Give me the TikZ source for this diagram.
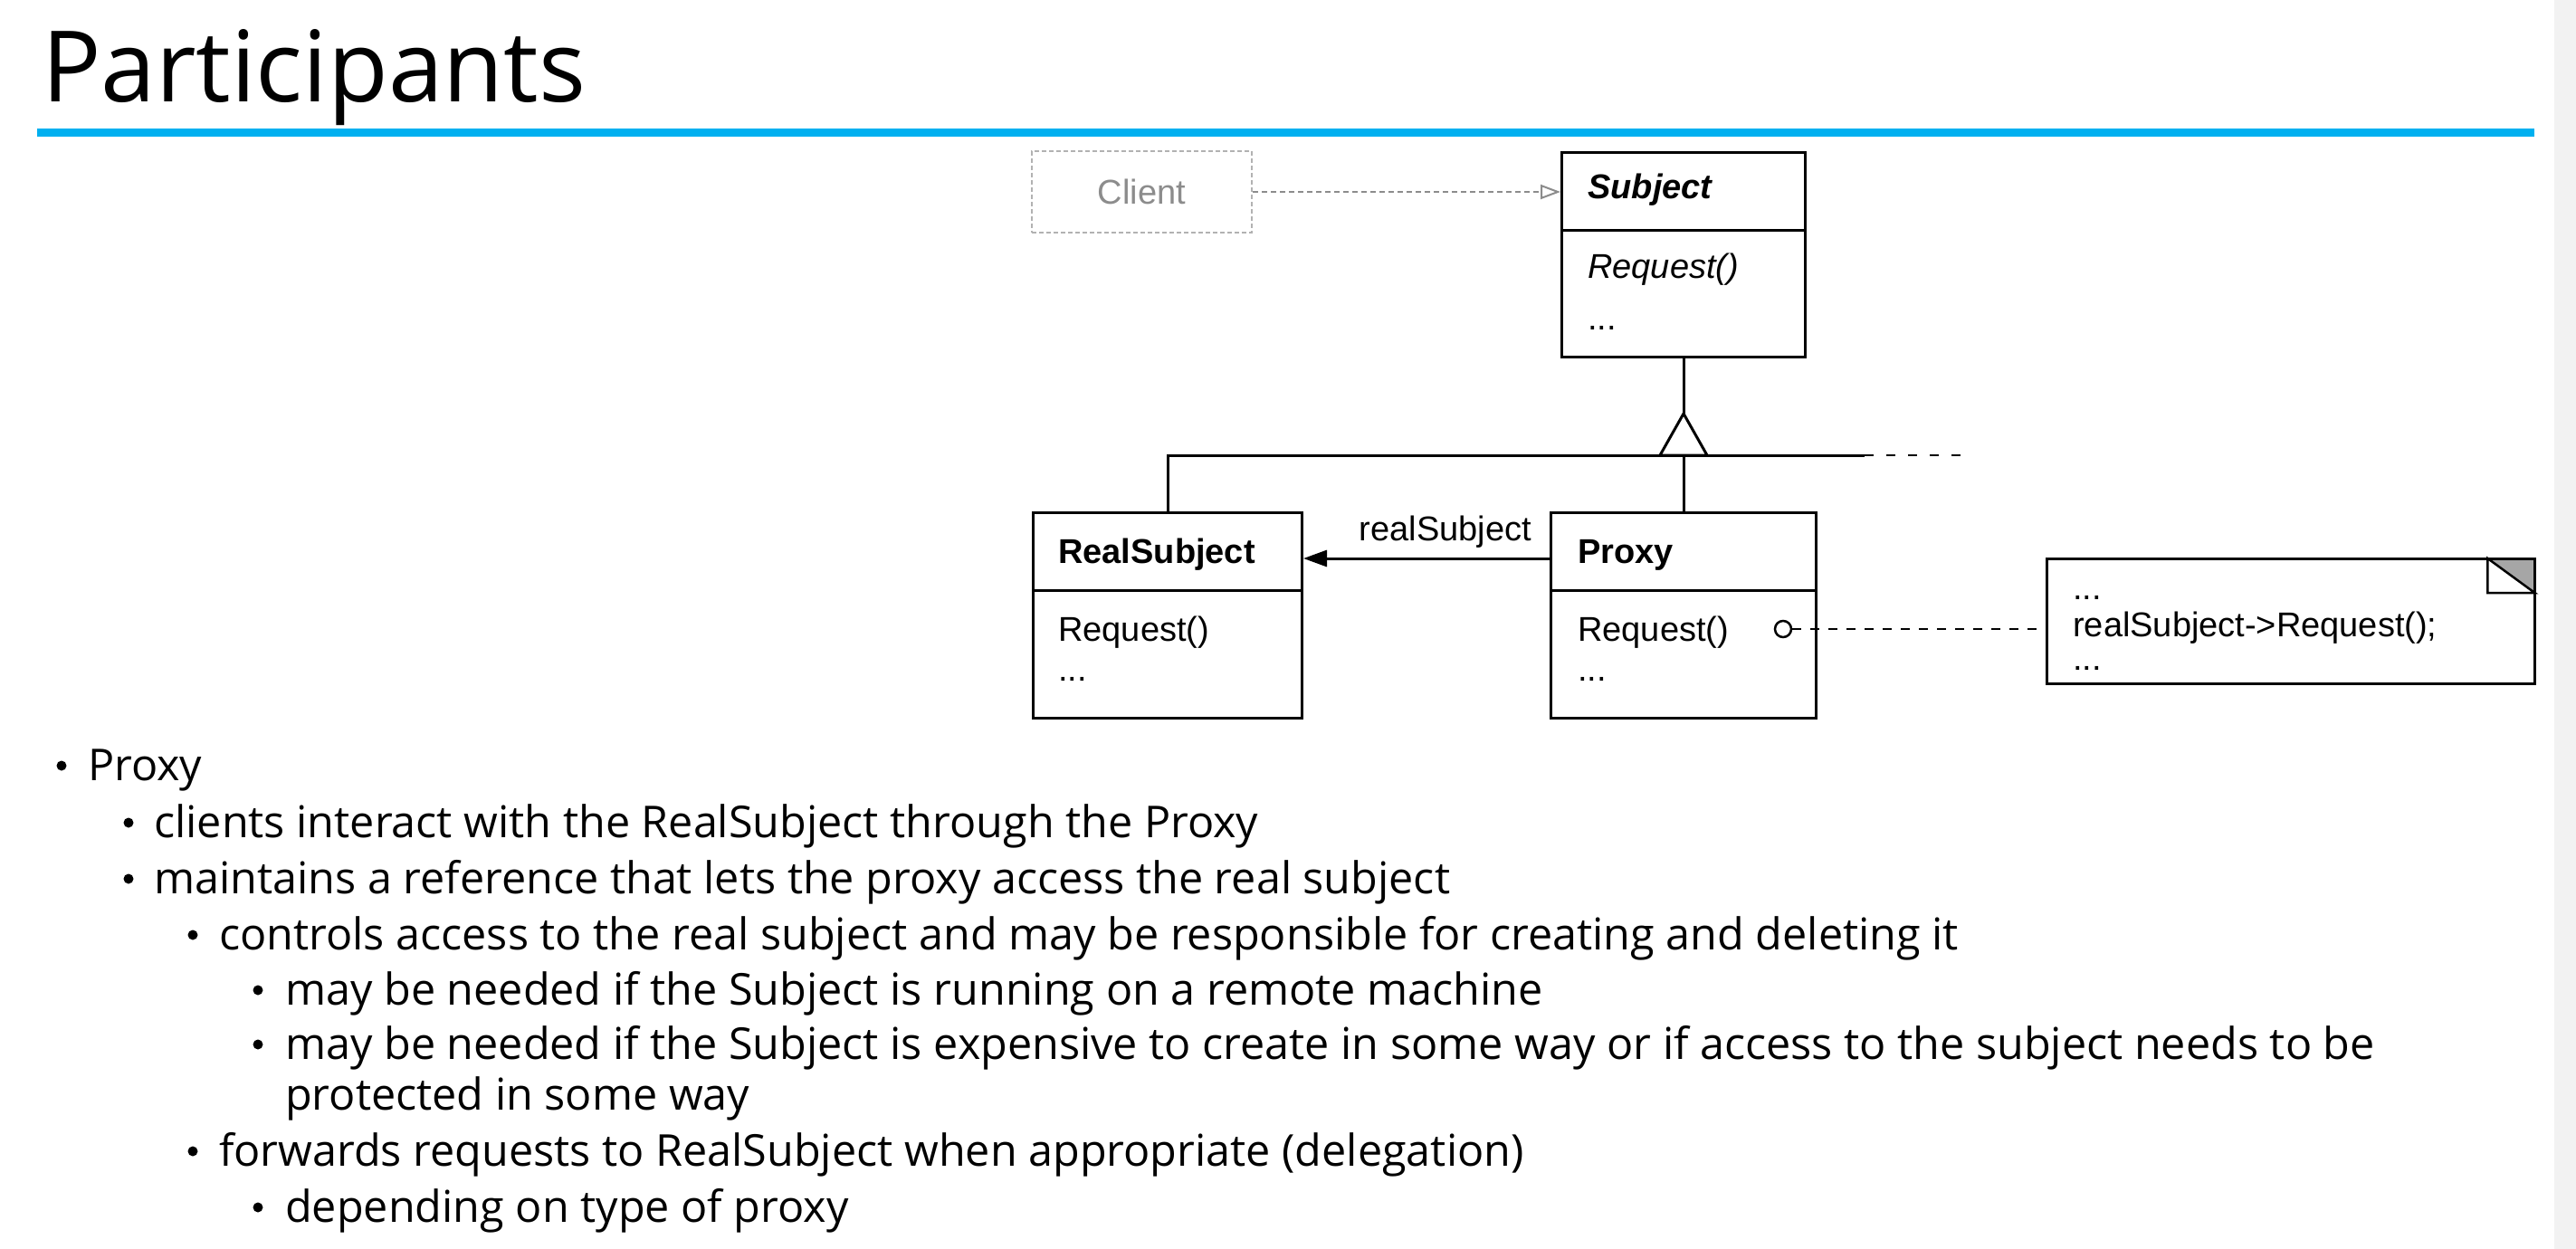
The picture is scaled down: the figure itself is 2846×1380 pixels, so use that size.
\documentclass[tikz,border=0pt]{standalone}
\usepackage{fontspec}
\setmainfont{Open Sans}
\newfontfamily\umlfont{Liberation Sans}
\usetikzlibrary{arrows.meta,calc}
\definecolor{titleblue}{RGB}{0,176,240}
\begin{document}
\begin{tikzpicture}[x=1pt,y=-1pt,
  uml/.style={font=\umlfont\fontsize{38}{44}\selectfont, anchor=base west, inner sep=0},
  body/.style={font=\fontsize{48.5}{56}\selectfont, anchor=base west, inner sep=0},
  classbox/.style={draw, line width=3pt, anchor=north west, inner sep=0},
  umlline/.style={line width=3pt},
  bulletdot/.style={fill=black}
]
\useasboundingbox (0,0) rectangle (2846,1380);
\fill[white] (0,0) rectangle (2846,1380);
\fill[black!5] (2822,0) rectangle (2846,1380);

% title
\node[anchor=base west, inner sep=0, font=\fontsize{109}{120}\selectfont] (title) at (46,113) {Participants};
\fill[titleblue] (41,142) rectangle (2800,151);

% client
\node[draw=black!30, dash pattern=on 5pt off 3pt, line width=2pt, minimum width=243, minimum height=90, inner sep=0,
      text=black!45, font=\umlfont\fontsize{38}{44}\selectfont] (client) at (1261.5,212) {Client};

% subject
\node[classbox, minimum width=269, minimum height=226] (subject) at (1724,167) {};
\draw[umlline] (subject.west |- 0,255) -- (subject.east |- 0,255);
\node[uml] (subjname) at (1754,220) {\bfseries\itshape Subject};
\node[uml] (subjreq) at (1754,308) {\itshape Request()};
\node[uml] (subjdots) at (1754,364) {...};

\draw[black!45, line width=2pt, dash pattern=on 6pt off 4pt, -{Triangle[open, length=22pt, width=16pt, line width=2pt]}]
  (client.east) -- (client.east -| subject.west);

% real subject
\node[classbox, minimum width=297, minimum height=227] (realsub) at (1140,565) {};
\draw[umlline] (realsub.west |- 0,652) -- (realsub.east |- 0,652);
\node[uml] (rsname) at (1169,622) {\bfseries RealSubject};
\node[uml] (rsreq) at (1169,708) {Request()};
\node[uml] (rsdots) at (1169,752) {...};

% proxy
\node[classbox, minimum width=293, minimum height=227] (proxy) at (1712,565) {};
\draw[umlline] (proxy.west |- 0,652) -- (proxy.east |- 0,652);
\node[uml] (pxname) at (1743,622) {\bfseries Proxy};
\node[uml] (pxreq) at (1743,708) {Request()};
\node[uml] (pxdots) at (1743,752) {...};

% inheritance
\coordinate (apex) at (subject.south |- 0,457);
\coordinate (junction) at (subject.south |- 0,503);
\coordinate (solidend) at (2060,503);
\coordinate (dashend) at (2173,503);
\draw[umlline] (subject.south) -- (apex);
\draw[umlline, line join=miter] (apex) -- ++(-26,46) -- ++(52,0) -- cycle;
\draw[umlline] (realsub.north) |- (solidend);
\draw[line width=2.5pt, dash pattern=on 10pt off 14pt] (solidend) -- (dashend);
\draw[umlline] (proxy.north) -- (junction);

% association
\coordinate (ay) at (0,617);
\draw[umlline, -{Triangle[length=26pt, width=18pt]}] (proxy.west |- ay) -- (realsub.east |- ay);
\node[uml, anchor=base] (rslabel) at (1597,597) {realSubject};

% note
\node[circle, draw, line width=2.5pt, minimum size=18pt, inner sep=0] (dot) at (1970,695) {};
\node[minimum width=539, minimum height=138, anchor=north west, inner sep=0] (note) at (2261,617) {};
\draw[line width=2.5pt, dash pattern=on 10pt off 10pt] (dot.east) -- (dot.east -| note.west);
\fill[black!35] ($(note.north east)+(-52,0)$) -- (note.north east) -- ($(note.north east)+(0,38)$) -- cycle;
\draw[umlline] (note.north west) rectangle (note.south east);
\draw[line width=2.5pt, line join=miter] ($(note.north east)+(-52,0)$) -- ($(note.north east)+(-52,38)$) -- ($(note.north east)+(0,38)$) -- cycle;
\node[uml] (n1) at (2290,662) {...};
\node[uml] (n2) at (2290,703) {realSubject->Request();};
\node[uml] (n3) at (2290,740) {...};

% bullets
\fill[bulletdot] (68,846) circle (5.5);
\node[body] (t1) at (97,862) {Proxy};
\fill[bulletdot] (142,909) circle (5.5);
\node[body] (t2) at (170,925) {clients interact with the RealSubject through the Proxy};
\fill[bulletdot] (142,971) circle (5.5);
\node[body] (t3) at (170,987) {maintains a reference that lets the proxy access the real subject};
\fill[bulletdot] (213,1033) circle (5.5);
\node[body] (t4) at (242,1049) {controls access to the real subject and may be responsible for creating and deleting it};
\fill[bulletdot] (285,1094) circle (5.5);
\node[body] (t5) at (315,1110) {may be needed if the Subject is running on a remote machine};
\fill[bulletdot] (285,1154) circle (5.5);
\node[body] (t6) at (315,1170) {may be needed if the Subject is expensive to create in some way or if access to the subject needs to be};
\node[body] (t7) at (315,1226) {protected in some way};
\fill[bulletdot] (213,1272) circle (5.5);
\node[body] (t8) at (242,1288) {forwards requests to RealSubject when appropriate (delegation)};
\fill[bulletdot] (285,1334) circle (5.5);
\node[body] (t9) at (315,1350) {depending on type of proxy};
\end{tikzpicture}
\end{document}
